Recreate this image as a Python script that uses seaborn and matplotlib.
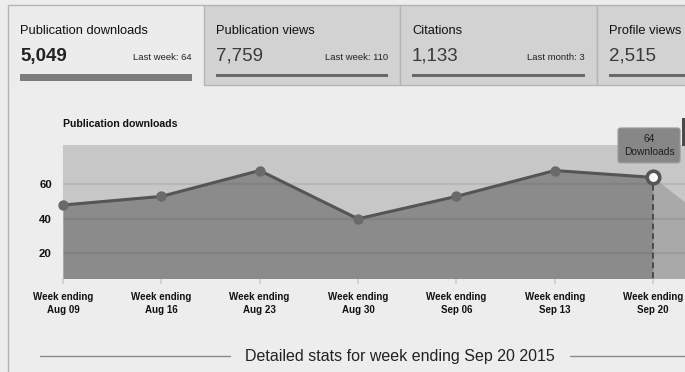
import matplotlib
matplotlib.use("Agg")
import matplotlib.pyplot as plt
from matplotlib.patches import Rectangle
import seaborn as sns
import numpy as np
import pandas as pd

# ---- data ----
weeks = ["Aug 09", "Aug 16", "Aug 23", "Aug 30", "Sep 06", "Sep 13", "Sep 20"]
downloads = [48, 53, 68, 40, 53, 68, 64]
next_week_partial = 20          # greyed preview of the running week
y_ticks = [20, 40, 60]

tab_titles = ["Publication downloads", "Publication views", "Citations", "Profile views"]
tab_values = ["5,049", "7,759", "1,133", "2,515"]
tab_notes = ["Last week: 64", "Last week: 110", "Last month: 3", ""]
tooltip_text = "64\nDownloads"
footer_text = "Detailed stats for week ending Sep 20 2015"

sns.set_theme(style="white")
plt.rcParams["font.family"] = ["Liberation Sans", "DejaVu Sans"]

W, H = 685, 372
fig = plt.figure(figsize=(W / 100, H / 100), dpi=100)
fig.patch.set_facecolor("#ededed")

def fx(x):
    return x / W

def fy(y):
    return 1 - y / H

def frect(x0, y0, x1, y1, **kw):
    fig.patches.append(Rectangle((fx(x0), fy(y1)), fx(x1) - fx(x0), fy(y0) - fy(y1),
                                 transform=fig.transFigure, figure=fig, **kw))

def fline(xs, ys, **kw):
    fig.add_artist(plt.Line2D([fx(v) for v in xs], [fy(v) for v in ys],
                              transform=fig.transFigure, **kw))

# ---- tabs ----
tab_x = [8, 204, 400, 597]
tab_w = [196, 196, 197, 100]
for i, (tx, tw) in enumerate(zip(tab_x, tab_w)):
    active = i == 0
    if active:
        frect(tx, 5, tx + tw, 86, facecolor="#ececec", edgecolor="none", zorder=0)
        fline([tx, tx, tx + tw], [86, 5, 5], color="#b4b4b4", lw=1.0)
    else:
        frect(tx, 5, tx + tw, 85, facecolor="#d2d2d2", edgecolor="#b4b4b4",
              linewidth=1.0, zorder=0)
    pad = 12
    fig.text(fx(tx + pad), fy(31), tab_titles[i], fontsize=9.3, color="#111111",
             va="center", ha="left")
    fig.text(fx(tx + pad), fy(56), tab_values[i], fontsize=13.5,
             fontweight="bold" if active else "normal",
             color="#222222" if active else "#3a3a3a", va="center", ha="left")
    if tab_notes[i]:
        fig.text(fx(tx + tw - 12), fy(58), tab_notes[i], fontsize=6.8, color="#222222",
                 va="center", ha="right")
    if active:
        frect(tx + pad, 74, tx + tw - 12, 81, facecolor="#7b7b7b", edgecolor="none", zorder=1)
    else:
        frect(tx + pad, 74, min(tx + tw - 12, W), 76.5, facecolor="#686868",
              edgecolor="none", zorder=1)

# panel left border
fline([8, 8], [86, H], color="#b4b4b4", lw=1.0)

# ---- chart ----
ax = fig.add_axes([fx(63), fy(278), fx(685) - fx(63), fy(145) - fy(278)])
ax.set_facecolor("#c7c7c7")
x = np.arange(len(weeks))
df = pd.DataFrame({"x": x, "downloads": downloads})

ymin, ymax = 5.7, 82.8
ax.set_xlim(0, 6.325)
ax.set_ylim(ymin, ymax)

# preview of the running week (lighter area)
ax.fill_between([x[-1], x[-1] + 1], [downloads[-1], next_week_partial], 0,
                color="#a9a9a9", lw=0, zorder=1)
ax.fill_between(x, downloads, 0, color="#8b8b8b", lw=0, zorder=1)

for yt in y_ticks:
    ax.axhline(yt, color="#000000", alpha=0.07, lw=1.6, zorder=1.5)

sns.lineplot(data=df, x="x", y="downloads", ax=ax, color="#555555", lw=2.2,
             marker="o", markersize=7.5, markeredgewidth=0, markerfacecolor="#6a6a6a",
             zorder=3, clip_on=False)
# highlighted point
ax.plot([x[-1]], [downloads[-1]], marker="o", markersize=9, markerfacecolor="white",
        markeredgecolor="#555555", markeredgewidth=2.6, zorder=5)
ax.vlines(x[-1], ymin, downloads[-1], colors="#4a4a4a", linestyles=(0, (3, 2)), lw=1.4,
          zorder=4)

ax.annotate(tooltip_text, xy=(x[-1], downloads[-1]), xytext=(-4, 32),
            textcoords="offset pixels", ha="center", va="center", fontsize=7.4,
            color="#1e1e1e", linespacing=1.45, annotation_clip=False,
            bbox=dict(boxstyle="round,pad=0.55,rounding_size=0.25", fc="#878787",
                      ec="#9a9a9a", lw=0.8), zorder=6)

ax.set_xticks(x)
ax.set_xticklabels(["Week ending\n" + w for w in weeks], fontsize=7, fontweight="bold",
                   color="#111111", linespacing=1.4)
ax.set_yticks(y_ticks)
ax.set_yticklabels([str(v) for v in y_ticks], fontsize=8.2, fontweight="bold",
                   color="#111111")
ax.tick_params(axis="x", length=4, color="#cfcfcf", pad=6, bottom=True)
ax.tick_params(axis="y", length=0, pad=8)
ax.set_xlabel("")
ax.set_ylabel("")
for s in ax.spines.values():
    s.set_visible(False)

fig.text(fx(63), fy(124), "Publication downloads", fontsize=7.6, fontweight="bold",
         color="#111111", va="center", ha="left")

# right-edge dark fragment (neighbouring tooltip)
frect(682, 118, 685, 146, facecolor="#4a4a4a", edgecolor="none")

# ---- footer ----
fline([40, 230], [356, 356], color="#8a8a8a", lw=1.0)
fline([570, 685], [356, 356], color="#8a8a8a", lw=1.0)
fig.text(fx(400), fy(356), footer_text, fontsize=11.5, color="#222222",
         ha="center", va="center")

fig.savefig("out.png", dpi=100, facecolor=fig.get_facecolor())
